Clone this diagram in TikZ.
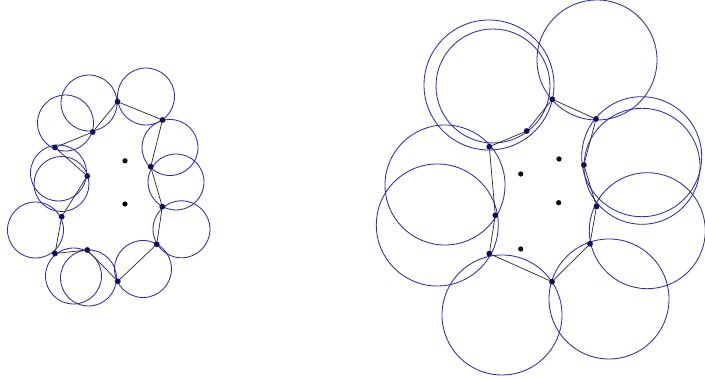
\documentclass[tikz,border=0pt]{standalone}
\usepackage{tikz}

\definecolor{ringblue}{RGB}{45,45,180}
\definecolor{sensor}{RGB}{15,15,90}

\begin{document}
\begin{tikzpicture}[
    x=1pt, y=-1pt,
    ring/.style={draw=ringblue, line width=0.85pt},
    link/.style={draw=black!85, line width=0.7pt},
    vertex/.style={circle, fill=sensor, inner sep=0pt, minimum size=5.8pt},
    target/.style={circle, fill=black, inner sep=0pt, minimum size=5.2pt},
]
\useasboundingbox (0,0) rectangle (705,379);

% === Left cluster: sensing disks (one per boundary edge) ===
\foreach \cx/\cy/\r in {89/103/28, 146/96.5/28.5, 65.5/123/28, 58.5/173/28,
    61.5/184/27.5, 35.5/230/28, 73.5/276/28, 88.5/278/28,
    143/269/28.5, 181.5/229.3/28.5, 170/147.5/28, 176/182/28} {
    \draw[ring] (\cx,\cy) circle (\r pt);
}

% Boundary nodes
\foreach \n/\x/\y in {a/117.5/101.7, b/162.5/120, c/150.7/166.7, d/162.3/206.7,
    e/156.7/244.3, f/117.8/281.3, g/87.3/250, h/55/253.5,
    i/61.7/216.7, j/87.3/176, k/55/147.5, l/92.7/132} {
    \node[vertex] (\n) at (\x,\y) {};
}
% Boundary edges
\foreach \u/\v in {a/b, b/c, c/d, d/e, e/f, f/g, g/h, h/i, i/j, j/k, k/l, l/a} {
    \draw[link] (\u) -- (\v);
}
% Inner points
\node[target] (t1) at (125,160.8) {};
\node[target] (t2) at (125,204) {};

% === Right cluster: larger disks ===
\foreach \cx/\cy/\r in {489/85/65, 493/86/57, 597/60/60, 641.7/156.7/60,
    642/166.3/58, 647.3/230.7/58, 609/299/60, 502/315/60,
    445/185/60, 437.3/225/61} {
    \draw[ring] (\cx,\cy) circle (\r pt);
}

% Boundary nodes
\foreach \n/\x/\y in {p1/552.3/99.3, p2/596/119, p3/583.9/165, p4/596.5/206.5,
    p5/590/243.8, p6/552/281.7, p7/489.3/253.6, p8/495.3/215.3,
    p9/489.3/146.7, p10/526.7/131} {
    \node[vertex] (\n) at (\x,\y) {};
}
% Boundary edges
\foreach \u/\v in {p1/p2, p2/p3, p3/p4, p4/p5, p5/p6, p6/p7, p7/p8, p8/p9, p9/p10, p10/p1} {
    \draw[link] (\u) -- (\v);
}
% Inner points
\node[target] (q1) at (559,159) {};
\node[target] (q2) at (520.7,174) {};
\node[target] (q3) at (558.7,202.7) {};
\node[target] (q4) at (520.7,249) {};

\end{tikzpicture}
\end{document}
